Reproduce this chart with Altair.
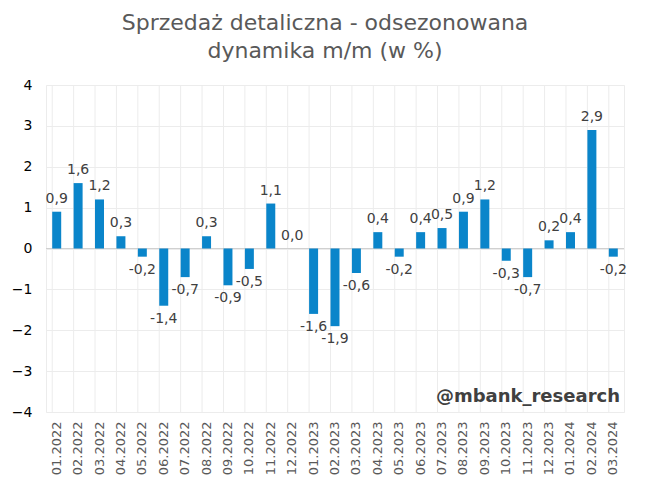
import altair as alt
import pandas as pd

months = ["01.2022", "02.2022", "03.2022", "04.2022", "05.2022", "06.2022", "07.2022",
          "08.2022", "09.2022", "10.2022", "11.2022", "12.2022", "01.2023", "02.2023",
          "03.2023", "04.2023", "05.2023", "06.2023", "07.2023", "08.2023", "09.2023",
          "10.2023", "11.2023", "12.2023", "01.2024", "02.2024", "03.2024"]
values = [0.9, 1.6, 1.2, 0.3, -0.2, -1.4, -0.7, 0.3, -0.9, -0.5, 1.1, 0.0, -1.6, -1.9,
          -0.6, 0.4, -0.2, 0.4, 0.5, 0.9, 1.2, -0.3, -0.7, 0.2, 0.4, 2.9, -0.2]
title_lines = ["Sprzedaż detaliczna - odsezonowana", "dynamika m/m (w %)"]
watermark = "@mbank_research"

df = pd.DataFrame({"month": months, "value": values})
df["label"] = [f"{v:.1f}".replace(".", ",") for v in values]

FONT = "DejaVu Sans"
W, H = 578, 327

xscale = alt.Scale(domain=months, paddingInner=0.58, paddingOuter=0.29)
yscale = alt.Scale(domain=[-4, 4], nice=False)

base = alt.Chart(df)

bars = base.mark_bar(color="#0a85ca").encode(
    x=alt.X("month:N", sort=months, scale=xscale,
            axis=alt.Axis(title=None, labelAngle=-90, labelFont=FONT, labelFontSize=13,
                          labelColor="#595959", ticks=False, domain=False, grid=False,
                          labelPadding=9, labelBaseline="middle")),
    y=alt.Y("value:Q", scale=yscale,
            axis=alt.Axis(title=None, values=[-4, -3, -2, -1, 0, 1, 2, 3, 4],
                          labelFont=FONT, labelFontSize=14, labelColor="#000000",
                          ticks=False, domain=False, grid=True, gridColor="#ececec",
                          labelPadding=14)),
)

vgrid = base.mark_rule(color="#ececec", strokeWidth=1).encode(
    x=alt.X("month:N", sort=months, scale=xscale, bandPosition=0),
)

zero = base.mark_rule(color="#d0d0d0", strokeWidth=1).encode(
    y=alt.datum(0),
)

pos_text = base.transform_filter("datum.value >= 0").mark_text(
    font=FONT, fontSize=14, color="#404040", baseline="bottom", dy=-6
).encode(
    x=alt.X("month:N", sort=months, scale=xscale),
    y=alt.Y("value:Q", scale=yscale),
    text="label:N",
)

neg_text = base.transform_filter("datum.value < 0").mark_text(
    font=FONT, fontSize=14, color="#404040", baseline="top", dy=6
).encode(
    x=alt.X("month:N", sort=months, scale=xscale),
    y=alt.Y("value:Q", scale=yscale),
    text="label:N",
)

wm = alt.Chart(pd.DataFrame({"t": [watermark]})).mark_text(
    font=FONT, fontSize=18, fontWeight="bold", color="#404040", align="right",
    baseline="middle"
).encode(
    x=alt.value(574), y=alt.value(312), text="t:N"
)

chart = alt.layer(vgrid, zero, bars, pos_text, neg_text, wm).properties(
    width=W, height=H,
    title=alt.TitleParams(text=title_lines, font=FONT, fontSize=22, fontWeight="normal",
                          color="#595959", anchor="middle", offset=15, lineHeight=28,
                          dx=-10),
    autosize=alt.AutoSizeParams(type="none"),
    padding={"left": 38, "top": 77, "right": 16, "bottom": 66},
).configure_view(stroke="#ececec")

chart.save("out.html", embed_options={"renderer": "svg", "actions": False})
